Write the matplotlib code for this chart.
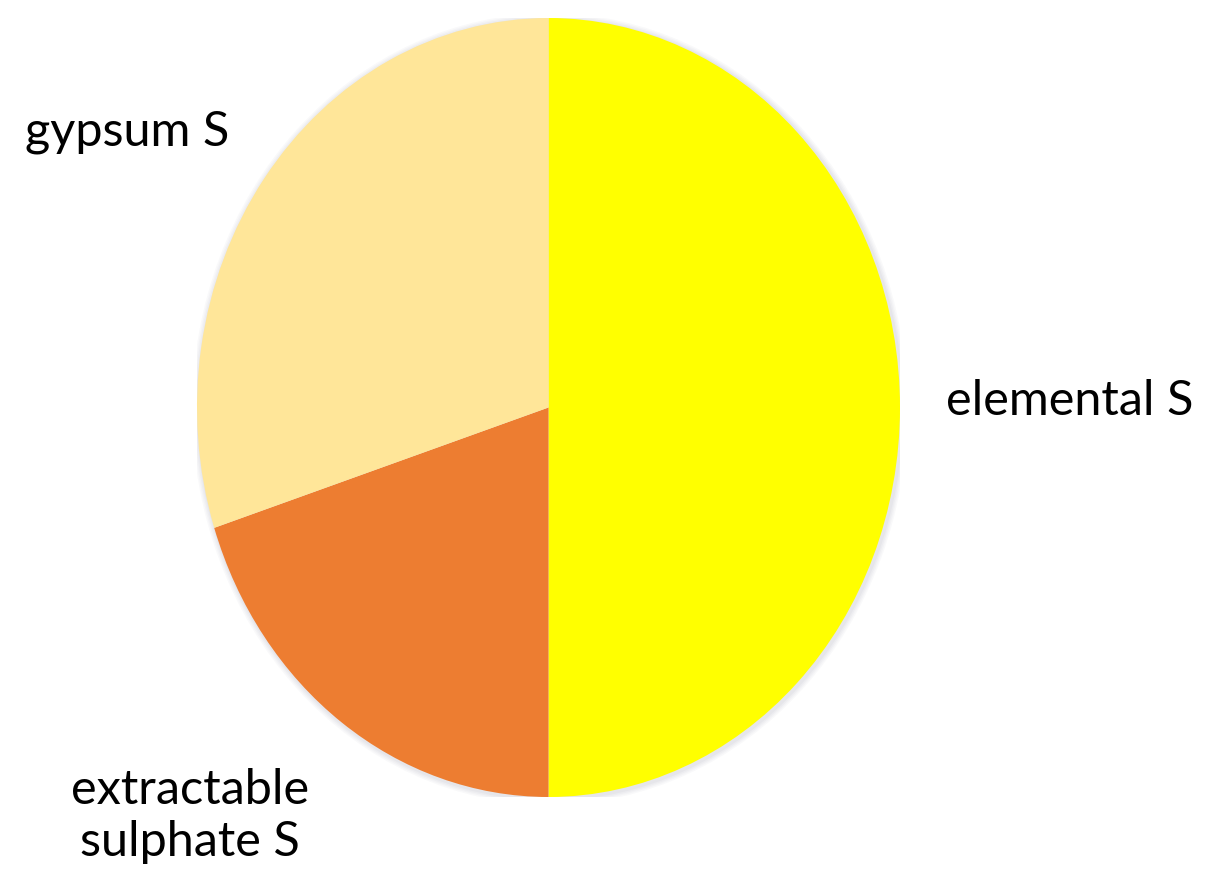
import matplotlib.pyplot as plt
from matplotlib.patches import Ellipse

plt.rcParams['font.family'] = ['Lato', 'DejaVu Sans']

# 数据
labels = ['elemental S', 'extractable\nsulphate S', 'gypsum S']
shares = [50, 20, 30]
colors = ['#FFFF00', '#ED7D31', '#FFE699']

fig = plt.figure(figsize=(12.09, 8.73), dpi=100)
ax = fig.add_axes([197 / 1209, 76 / 873, 703 / 1209, 779 / 873])

# 柔和阴影
for i, a in enumerate([0.05, 0.05, 0.06, 0.07]):
    grow = 0.035 - i * 0.008
    ax.add_patch(Ellipse((0.004, -0.004), 2 + grow, 2 + grow * 0.9,
                         facecolor='#9090a8', edgecolor='none', alpha=a, zorder=0))

ax.pie(shares, colors=colors, startangle=90, counterclock=False,
       wedgeprops=dict(linewidth=0, zorder=2))
ax.set_aspect('auto')
ax.set_xlim(-1, 1)
ax.set_ylim(-1, 1)
ax.axis('off')

fs = 35
fig.text(25 / 1209, 1 - 132 / 873, labels[2], fontsize=fs, ha='left', va='center')
fig.text(946 / 1209, 1 - 401 / 873, labels[0], fontsize=fs, ha='left', va='center')
fig.text(190 / 1209, 1 - 816 / 873, labels[1], fontsize=fs, ha='center', va='center',
         linespacing=1.2)

fig.savefig('out.png', dpi=100, facecolor='white')
